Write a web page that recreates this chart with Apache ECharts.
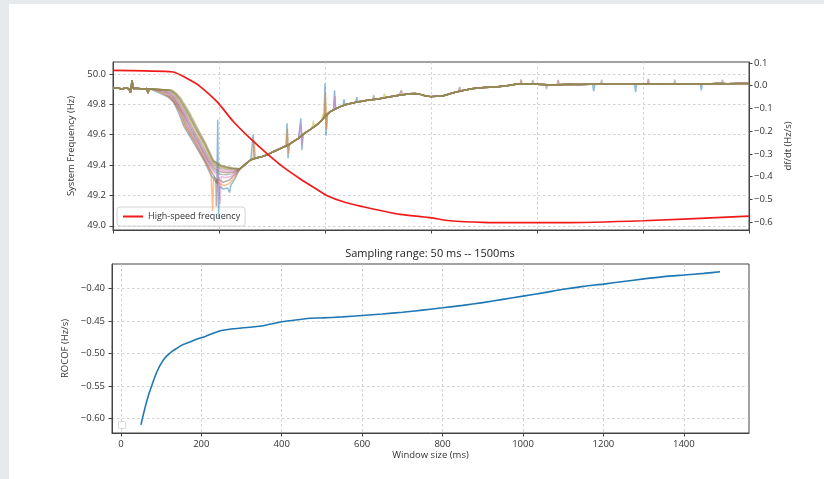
<!DOCTYPE html>
<html>
<head>
<meta charset="utf-8">
<script src="https://cdn.jsdelivr.net/npm/echarts@6/dist/echarts.min.js"></script>
<style>
  html, body { margin: 0; padding: 0; background: #e6eaed; }
  #panel { position: absolute; left: 9px; top: 4px; right: 0; bottom: 0; background: #ffffff; }
  #chart { position: absolute; left: 0; top: 0; width: 824px; height: 479px; }
</style>
</head>
<body>
<div id="panel"></div>
<div id="chart"></div>
<script>
// ---------- Upper panel: system frequency (s) ----------
const freqTime = [0, 0.3, 0.566, 0.66, 0.726, 0.80, 0.978, 1.135, 1.292, 1.45, 1.607, 1.764, 1.922, 2.016, 2.173, 2.36, 2.58, 2.708, 2.99, 3.18, 3.49, 3.81, 4.22, 5.0, 6.0];
const freqHz = [50.024, 50.02, 50.013, 49.985, 49.96, 49.93, 49.819, 49.687, 49.577, 49.477, 49.386, 49.31, 49.24, 49.2, 49.158, 49.125, 49.092, 49.075, 49.053, 49.033, 49.022, 49.02, 49.02, 49.033, 49.064];

// df/dt traces: common start, per-window transition, common settling part
const dfdtHead = [[0, -0.012], [0.04, -0.009], [0.08, -0.014], [0.12, -0.010], [0.15, -0.013], [0.165, -0.03], [0.18, 0.024], [0.19, -0.012], [0.23, -0.011], [0.27, -0.014], [0.30, -0.016], [0.32, -0.012], [0.33, -0.032], [0.34, -0.013], [0.35, -0.014]];

const dfdtFan0 = [[0.38, -0.02], [0.45, -0.035], [0.52, -0.05], [0.57, -0.07], [0.62, -0.12], [0.67, -0.18], [0.76, -0.25], [0.86, -0.33], [0.92, -0.39], [0.98, -0.43], [0.988, -0.15], [0.996, -0.58], [1.004, -0.44], [1.04, -0.455], [1.08, -0.45], [1.10, -0.47], [1.11, -0.44], [1.15, -0.41], [1.18, -0.38]];
const dfdtFan1 = [[0.40, -0.02], [0.47, -0.035], [0.53, -0.05], [0.58, -0.075], [0.63, -0.12], [0.68, -0.18], [0.77, -0.25], [0.865, -0.33], [0.925, -0.385], [0.94, -0.55], [0.95, -0.40], [1.0, -0.43], [1.05, -0.44], [1.1, -0.43], [1.15, -0.40], [1.18, -0.378]];
const dfdtFan2 = [[0.42, -0.02], [0.49, -0.035], [0.55, -0.055], [0.59, -0.08], [0.64, -0.12], [0.69, -0.18], [0.78, -0.25], [0.87, -0.33], [0.93, -0.38], [0.97, -0.41], [0.975, -0.53], [0.985, -0.41], [1.04, -0.425], [1.1, -0.415], [1.15, -0.39], [1.18, -0.375]];
const dfdtFan3 = [[0.44, -0.02], [0.51, -0.035], [0.56, -0.055], [0.60, -0.08], [0.65, -0.12], [0.70, -0.18], [0.79, -0.25], [0.88, -0.33], [0.94, -0.375], [1.0, -0.40], [1.01, -0.52], [1.02, -0.40], [1.06, -0.405], [1.11, -0.40], [1.16, -0.385], [1.18, -0.373]];
const dfdtFan4 = [[0.46, -0.02], [0.52, -0.035], [0.57, -0.055], [0.61, -0.085], [0.66, -0.125], [0.71, -0.18], [0.80, -0.25], [0.89, -0.33], [0.95, -0.37], [1.01, -0.39], [1.07, -0.392], [1.12, -0.388], [1.16, -0.378]];
const dfdtFan5 = [[0.48, -0.02], [0.54, -0.035], [0.58, -0.055], [0.62, -0.085], [0.67, -0.125], [0.725, -0.18], [0.81, -0.25], [0.90, -0.33], [0.96, -0.365], [1.02, -0.38], [1.08, -0.383], [1.13, -0.38], [1.17, -0.372]];
const dfdtFan6 = [[0.50, -0.02], [0.55, -0.035], [0.59, -0.055], [0.63, -0.085], [0.68, -0.125], [0.735, -0.18], [0.82, -0.25], [0.91, -0.33], [0.97, -0.36], [1.03, -0.373], [1.09, -0.376], [1.14, -0.374], [1.17, -0.37]];
const dfdtFan7 = [[0.52, -0.02], [0.565, -0.035], [0.60, -0.055], [0.64, -0.085], [0.69, -0.125], [0.745, -0.18], [0.83, -0.25], [0.92, -0.33], [0.98, -0.357], [1.04, -0.367], [1.1, -0.37], [1.15, -0.369]];
const dfdtFan8 = [[0.53, -0.02], [0.575, -0.035], [0.61, -0.055], [0.65, -0.085], [0.70, -0.125], [0.76, -0.18], [0.845, -0.25], [0.93, -0.33], [0.99, -0.355], [1.05, -0.363], [1.12, -0.366]];
const dfdtFan9 = [[0.54, -0.02], [0.585, -0.035], [0.62, -0.055], [0.66, -0.085], [0.71, -0.125], [0.77, -0.18], [0.855, -0.25], [0.94, -0.33], [1.0, -0.352], [1.06, -0.36], [1.12, -0.364]];
const dfdtFan10 = [[0.55, -0.02], [0.595, -0.035], [0.63, -0.055], [0.67, -0.085], [0.72, -0.125], [0.78, -0.18], [0.865, -0.25], [0.945, -0.33], [1.01, -0.35], [1.07, -0.358], [1.13, -0.363]];
const dfdtFan11 = [[0.56, -0.02], [0.60, -0.035], [0.64, -0.055], [0.68, -0.085], [0.73, -0.125], [0.79, -0.18], [0.87, -0.25], [0.95, -0.33], [1.02, -0.35], [1.08, -0.357], [1.14, -0.362]];

const dfdtTail = [[1.20, -0.365], [1.25, -0.345], [1.30, -0.326], [1.35, -0.318], [1.40, -0.313], [1.45, -0.305], [1.50, -0.293], [1.55, -0.283], [1.60, -0.271], [1.65, -0.262], [1.70, -0.246], [1.75, -0.232], [1.80, -0.212], [1.85, -0.196], [1.90, -0.180], [1.95, -0.162], [2.00, -0.135], [2.05, -0.114], [2.10, -0.102], [2.15, -0.091], [2.20, -0.083], [2.25, -0.077], [2.30, -0.072], [2.35, -0.068], [2.40, -0.064], [2.50, -0.058], [2.60, -0.050], [2.70, -0.042], [2.80, -0.035], [2.85, -0.034], [2.90, -0.038], [2.95, -0.045], [3.00, -0.048], [3.05, -0.046], [3.10, -0.046], [3.15, -0.040], [3.20, -0.032], [3.30, -0.021], [3.40, -0.012], [3.50, -0.008], [3.60, -0.006], [3.70, -0.001], [3.80, 0.006], [3.90, 0.008], [4.00, 0.007], [4.10, 0.004], [4.20, 0.004], [4.30, 0.006], [4.40, 0.005], [4.50, 0.006], [4.60, 0.007], [4.70, 0.006], [4.80, 0.007], [4.90, 0.007], [5.00, 0.008], [5.10, 0.006], [5.20, 0.008], [5.30, 0.009], [5.40, 0.008], [5.50, 0.009], [5.60, 0.008], [5.70, 0.010], [5.80, 0.009], [5.90, 0.010], [6.00, 0.010]];

// short transients seen on individual windows
const dfdtSpikes0 = [[1.31, -0.325], [1.322, -0.215], [1.334, -0.322], [1.632, -0.268], [1.642, -0.165], [1.651, -0.32], [1.66, -0.262], [1.762, -0.225], [1.772, -0.143], [1.782, -0.283], [1.792, -0.213], [1.99, -0.14], [2.0, 0.01], [2.01, -0.22], [2.02, -0.127], [2.08, -0.105], [2.09, -0.02], [2.1, -0.102], [2.17, -0.088], [2.18, -0.06], [2.19, -0.086], [2.29, -0.073], [2.3, -0.05], [2.31, -0.071], [4.525, 0.006], [4.535, -0.025], [4.545, 0.006], [4.92, 0.007], [4.93, -0.028], [4.94, 0.007], [5.54, 0.009], [5.55, -0.02], [5.56, 0.009]];
const dfdtSpikes1 = [[1.32, -0.325], [1.33, -0.24], [1.345, -0.318], [1.635, -0.266], [1.645, -0.19], [1.655, -0.30], [1.665, -0.26], [1.995, -0.137], [2.005, -0.03], [2.015, -0.19], [2.025, -0.123]];
const dfdtSpikes5 = [[2.71, -0.042], [2.72, -0.02], [2.73, -0.041], [3.26, -0.025], [3.27, -0.005], [3.28, -0.023], [3.84, 0.006], [3.85, 0.028], [3.86, 0.007], [4.19, 0.004], [4.2, 0.026], [4.21, 0.004], [5.04, 0.008], [5.05, 0.03], [5.06, 0.007]];
const dfdtSpikes6 = [[1.765, -0.224], [1.775, -0.17], [1.785, -0.26], [1.795, -0.21], [2.085, -0.104], [2.095, -0.045], [2.105, -0.1]];
const dfdtSpikes7 = [[2.45, -0.061], [2.46, -0.04], [2.47, -0.06], [3.95, 0.008], [3.96, 0.025], [3.97, 0.008], [4.08, 0.005], [4.09, -0.015], [4.1, 0.004], [4.6, 0.007], [4.61, 0.027], [4.62, 0.007], [5.29, 0.009], [5.3, 0.026], [5.31, 0.009], [5.74, 0.01], [5.75, 0.027], [5.76, 0.01]];
const dfdtSpikes8 = [[1.88, -0.183], [1.89, -0.155], [1.9, -0.18], [1.97, -0.152], [1.98, -0.125], [1.99, -0.148], [2.55, -0.054], [2.56, -0.035], [2.57, -0.053]];

const freqTicks = [49.0, 49.2, 49.4, 49.6, 49.8, 50.0];
const dfdtTicks = [-0.6, -0.5, -0.4, -0.3, -0.2, -0.1, 0.0, 0.1];
const timeTicks = [0, 1, 2, 3, 4, 5, 6];

// ---------- Lower panel: ROCOF against window size ----------
const windowMs = [50, 60, 70, 80, 90, 100, 110, 120, 130, 140, 150, 170, 190, 210, 230, 250, 270, 300, 350, 400, 450, 470, 500, 550, 600, 650, 700, 750, 800, 850, 900, 950, 1000, 1050, 1100, 1150, 1200, 1250, 1300, 1350, 1400, 1450, 1490];
const rocofHz = [-0.610, -0.584, -0.562, -0.544, -0.528, -0.516, -0.507, -0.501, -0.496, -0.492, -0.488, -0.483, -0.478, -0.474, -0.469, -0.465, -0.463, -0.461, -0.458, -0.4515, -0.4475, -0.4460, -0.4455, -0.4440, -0.4418, -0.4395, -0.4368, -0.4335, -0.4300, -0.4262, -0.4220, -0.4170, -0.4120, -0.4070, -0.4015, -0.3970, -0.3935, -0.3895, -0.3855, -0.3820, -0.3795, -0.3770, -0.3745];
const windowTicks = [0, 200, 400, 600, 800, 1000, 1200, 1400];
const rocofTicks = [-0.60, -0.55, -0.50, -0.45, -0.40];

// ---------- assembly ----------
const fans = [dfdtFan0, dfdtFan1, dfdtFan2, dfdtFan3, dfdtFan4, dfdtFan5, dfdtFan6, dfdtFan7, dfdtFan8, dfdtFan9, dfdtFan10, dfdtFan11];
const spikes = { 0: dfdtSpikes0, 1: dfdtSpikes1, 5: dfdtSpikes5, 6: dfdtSpikes6, 7: dfdtSpikes7, 8: dfdtSpikes8 };
const traceColors = ['#1f77b4', '#ff7f0e', '#8c564b', '#e377c2', '#7f7f7f', '#8c564b', '#e377c2', '#7f7f7f', '#bcbd22', '#8c564b', '#7f7f7f', '#9a9a3a'];

function buildTrace(k) {
  return dfdtHead.concat(fans[k], dfdtTail, spikes[k] || []).slice().sort((a, b) => a[0] - b[0]);
}

const FONT = 'Open Sans';
const AX = '#444';
const LBL = '#333';
const minus = (v, d) => (v < -1e-9 ? '\u2212' + Math.abs(v).toFixed(d) : Math.abs(v).toFixed(d));

const gridLine = { show: true, lineStyle: { color: '#c6c6c6', type: [2.5, 2.5], width: 0.8 } };
function axisBase(extra) {
  return Object.assign({
    axisLine: { show: true, onZero: false, lineStyle: { color: AX, width: 1 } },
    axisTick: { show: true, inside: false, length: 3.5, lineStyle: { color: AX, width: 1 } },
    splitLine: gridLine,
    nameTextStyle: { fontFamily: FONT, fontSize: 9.5, color: LBL },
  }, extra);
}

const series = fans.map((_, k) => ({
  type: 'line',
  xAxisIndex: 0,
  yAxisIndex: 1,
  data: buildTrace(k),
  showSymbol: false,
  silent: true,
  z: 5,
  lineStyle: { color: traceColors[k], width: 1.5, opacity: 0.5 },
}));

series.push({
  name: 'High-speed frequency',
  type: 'line',
  xAxisIndex: 0,
  yAxisIndex: 0,
  data: freqTime.map((t, i) => [t, freqHz[i]]),
  smooth: 0.3,
  showSymbol: false,
  z: 6,
  itemStyle: { color: '#f01a1a' },
  lineStyle: { color: '#f01a1a', width: 1.7 },
});

series.push({
  type: 'line',
  xAxisIndex: 1,
  yAxisIndex: 2,
  data: windowMs.map((w, i) => [w, rocofHz[i]]),
  smooth: 0.2,
  showSymbol: false,
  lineStyle: { color: '#1f77b4', width: 1.6 },
  itemStyle: { color: '#1f77b4' },
});

const chart = echarts.init(document.getElementById('chart'), null, { renderer: 'canvas' });
chart.setOption({
  animation: false,
  backgroundColor: 'transparent',
  textStyle: { fontFamily: FONT },
  title: {
    text: 'Sampling range: 50 ms -- 1500ms',
    left: 430, top: 248, padding: 0,
    textAlign: 'center',
    textStyle: { fontFamily: FONT, fontSize: 11, fontWeight: 'normal', color: '#222' },
  },
  legend: {
    data: ['High-speed frequency'],
    left: 117, top: 207,
    padding: [5, 5, 5, 6],
    itemWidth: 20, itemHeight: 2, icon: 'rect',
    backgroundColor: '#ffffff',
    borderColor: '#d4d4d4', borderWidth: 1, borderRadius: 3,
    textStyle: { fontFamily: FONT, fontSize: 9, color: LBL },
    z: 4,
  },
  grid: [
    { left: 113, right: 75, top: 62, height: 168, show: true, borderColor: AX, borderWidth: 1, backgroundColor: '#fff', containLabel: false },
    { left: 112, right: 75, top: 264, height: 169, show: true, borderColor: AX, borderWidth: 1, backgroundColor: '#fff', containLabel: false },
  ],
  xAxis: [
    axisBase({
      type: 'value', gridIndex: 0, min: 0, max: 6, position: 'bottom',
      axisTick: { show: true, inside: false, length: 3.5, lineStyle: { color: AX }, customValues: timeTicks },
      axisLabel: { show: false, customValues: timeTicks },
    }),
    axisBase({
      type: 'value', gridIndex: 1, min: -22, max: 1562, position: 'bottom',
      name: 'Window size (ms)', nameLocation: 'middle', nameGap: 17,
      axisTick: { show: true, inside: false, length: 3.5, lineStyle: { color: AX }, customValues: windowTicks },
      axisLabel: { customValues: windowTicks, margin: 6, fontFamily: FONT, fontSize: 9.5, color: LBL, formatter: v => String(Math.round(v)) },
    }),
  ],
  yAxis: [
    axisBase({
      type: 'value', gridIndex: 0, min: 48.972, max: 50.079, position: 'left',
      name: 'System Frequency (Hz)', nameLocation: 'middle', nameGap: 30, nameRotate: 90,
      axisTick: { show: true, inside: false, length: 3.5, lineStyle: { color: AX }, customValues: freqTicks },
      axisLabel: { customValues: freqTicks, margin: 7, fontFamily: FONT, fontSize: 9.5, color: LBL, formatter: v => v.toFixed(1) },
    }),
    axisBase({
      type: 'value', gridIndex: 0, min: -0.635, max: 0.1044, position: 'right',
      name: 'df/dt (Hz/s)', nameLocation: 'middle', nameGap: 28, nameRotate: 90,
      splitLine: { show: false },
      axisTick: { show: true, inside: false, length: 3.5, lineStyle: { color: AX }, customValues: dfdtTicks },
      axisLabel: { customValues: dfdtTicks, margin: 5, fontFamily: FONT, fontSize: 9.5, color: LBL, align: 'left', formatter: v => minus(v, 1) },
    }),
    axisBase({
      type: 'value', gridIndex: 1, min: -0.6226, max: -0.3626, position: 'left',
      name: 'ROCOF (Hz/s)', nameLocation: 'middle', nameGap: 34, nameRotate: 90,
      axisTick: { show: true, inside: false, length: 3.5, lineStyle: { color: AX }, customValues: rocofTicks },
      axisLabel: { customValues: rocofTicks, margin: 7, fontFamily: FONT, fontSize: 9.5, color: LBL, formatter: v => minus(v, 2) },
    }),
  ],
  graphic: [
    // empty legend frame in the lower panel
    { type: 'rect', left: 118, top: 421, shape: { width: 7, height: 7, r: 1 }, style: { fill: '#fff', stroke: '#d8d8d8', lineWidth: 1 }, z: 10 },
  ],
  series: series,
});
</script>
</body>
</html>
